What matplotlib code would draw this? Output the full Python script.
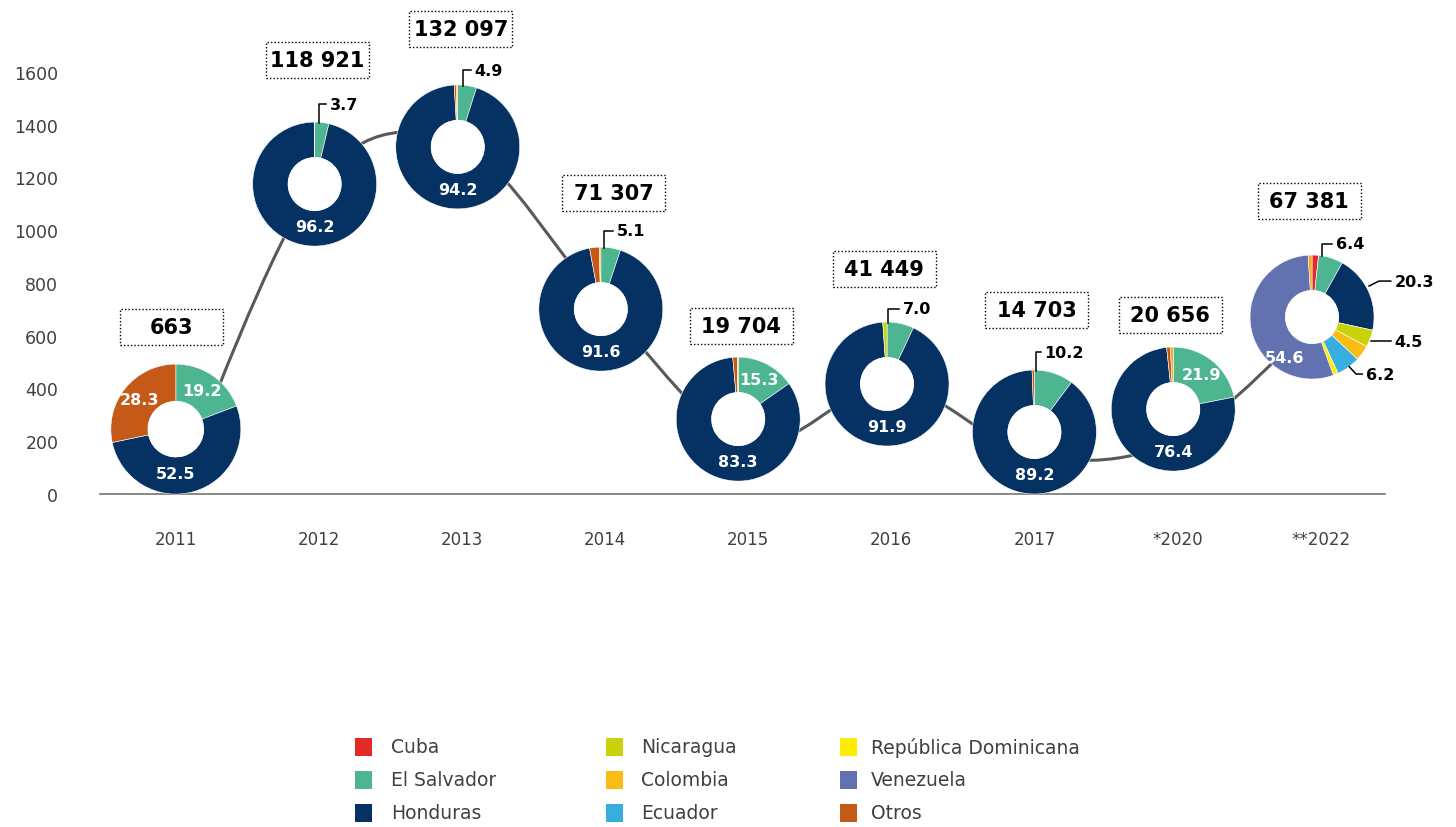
import math
import matplotlib
matplotlib.use("Agg")
import matplotlib.pyplot as plt
from matplotlib.path import Path
from matplotlib.patches import PathPatch, Rectangle, Circle

plt.rcParams["font.family"] = ["DejaVu Sans"]

# ---- datos ----
years = ["2011", "2012", "2013", "2014", "2015", "2016", "2017", "*2020", "**2022"]
totals = [663, 118921, 132097, 71307, 19704, 41449, 14703, 20656, 67381]
total_labels = ["663", "118 921", "132 097", "71 307", "19 704", "41 449",
                "14 703", "20 656", "67 381"]

countries = ["Cuba", "El Salvador", "Honduras", "Nicaragua", "Colombia",
             "Ecuador", "República Dominicana", "Venezuela", "Otros"]

# participación (%) por año, en el orden de years
cuba = [0, 0, 0, 0, 0, 0, 0, 0, 1.7]
el_salvador = [19.2, 3.7, 4.9, 5.1, 15.3, 7.0, 10.2, 21.9, 6.4]
honduras = [52.5, 96.2, 94.2, 91.6, 83.3, 91.9, 89.2, 76.4, 20.3]
nicaragua = [0, 0, 0, 0, 0, 1.1, 0, 0, 4.5]
colombia = [0, 0, 0, 0, 0, 0, 0, 0, 4.0]
ecuador = [0, 0, 0, 0, 0, 0, 0, 0, 6.2]
rep_dominicana = [0, 0, 0, 0, 0, 0, 0, 0, 1.3]
venezuela = [0, 0, 0, 0, 0, 0, 0, 0, 54.6]
otros = [28.3, 0, 0.5, 2.5, 1.2, 0, 0.6, 1.0, 0]
resto = [0, 0.1, 0.4, 0.4, 0.2, 0, 0, 0.7, 1.0]  # rebanada pequeña sin leyenda

shares = [cuba, el_salvador, honduras, nicaragua, colombia, ecuador,
          rep_dominicana, venezuela, otros, resto]

# ---- estilo / posiciones ----
colors = ["#E42A27", "#4DB690", "#053262", "#C8D30C", "#F9BD14",
          "#38ADE0", "#FFEC00", "#6271B0", "#C55A18", "#F5A623"]
line_color = "#595959"
text_gray = "#404040"

W, H = 1456, 828
donut_x = [0, 0.97, 1.97, 2.97, 3.93, 4.97, 6.0, 6.97, 7.94]
donut_y = [246, 1175, 1316, 701, 284, 417, 235, 322, 671]
donut_r = [65, 62, 62, 62, 62, 62, 62, 62, 62]
box_dy = [102, 124, 118, 116, 93, 115, 122, 94, 116]   # px sobre el centro
box_dx = [-4, 3, 3, 13, 3, -3, 2, -3, -3]
HOLE = 0.57

# etiquetas exteriores (año, país) -> polilínea en radios
outside = {
    (1, 1): [(0.07, 0.98), (0.07, 1.29), (0.18, 1.29)],
    (2, 1): [(0.08, 0.98), (0.08, 1.24), (0.21, 1.24)],
    (3, 1): [(0.05, 0.98), (0.05, 1.26), (0.19, 1.26)],
    (5, 1): [(0.02, 0.98), (0.02, 1.21), (0.19, 1.21)],
    (6, 1): [(0.02, 0.98), (0.02, 1.29), (0.10, 1.29)],
    (8, 1): [(0.16, 0.98), (0.16, 1.18), (0.32, 1.18)],
    (8, 2): [(0.92, 0.50), (1.08, 0.58), (1.27, 0.58)],
    (8, 3): [(0.95, -0.39), (1.27, -0.39)],
    (8, 5): [(0.60, -0.80), (0.71, -0.92), (0.81, -0.92)],
}
inside_override = {(8, 7): (-0.45, -0.65)}

fig = plt.figure(figsize=(W / 100, H / 100), dpi=100)
ax = fig.add_axes([100 / W, 1 - 495 / H, 1285 / W, 422 / H])
ax.set_xlim(-0.53, 8.45)
ax.set_ylim(0, 1600)
for s in ["left", "right", "top"]:
    ax.spines[s].set_visible(False)
ax.spines["bottom"].set_color("#808080")
ax.spines["bottom"].set_linewidth(1.3)
ax.set_yticks(range(0, 1601, 200))
ax.set_xticks(range(len(years)))
ax.set_xticklabels(years)
ax.tick_params(axis="y", length=0, pad=30, labelsize=12.5, labelcolor=text_gray)
ax.tick_params(axis="x", length=0, pad=26, labelsize=12, labelcolor=text_gray)

# línea suavizada (totales en centenas)
pts = [(i, t / 100) for i, t in enumerate(totals)]
verts = [pts[0]]
codes = [Path.MOVETO]
n = len(pts)
for i in range(n - 1):
    p0 = pts[max(i - 1, 0)]
    p1 = pts[i]
    p2 = pts[i + 1]
    p3 = pts[min(i + 2, n - 1)]
    c1 = (p1[0] + (p2[0] - p0[0]) / 6, p1[1] + (p2[1] - p0[1]) / 6)
    c2 = (p2[0] - (p3[0] - p1[0]) / 6, p2[1] - (p3[1] - p1[1]) / 6)
    verts += [c1, c2, p2]
    codes += [Path.CURVE4] * 3
ax.add_patch(PathPatch(Path(verts, codes), fill=False, color=line_color,
                       lw=2.2, capstyle="round", clip_on=False))

# donas
for yi in range(len(years)):
    cx, cy = ax.transData.transform((donut_x[yi], donut_y[yi]))
    r = donut_r[yi]
    dax = fig.add_axes([(cx - r) / W, (cy - r) / H, 2 * r / W, 2 * r / H])
    vals, cols, idx = [], [], []
    for k, serie in enumerate(shares):
        if serie[yi] > 0:
            vals.append(serie[yi])
            cols.append(colors[k])
            idx.append(k)
    dax.pie(vals, colors=cols, startangle=90, counterclock=False, radius=1,
            wedgeprops=dict(width=HOLE, edgecolor="white", linewidth=0.4))
    dax.add_patch(Circle((0, 0), 1 - HOLE, facecolor="white", edgecolor="none"))
    dax.set_xlim(-1, 1)
    dax.set_ylim(-1, 1)
    dax.set_aspect("equal")
    dax.axis("off")

    cum = 0
    for v, k in zip(vals, idx):
        mid = (cum + v / 2) / sum(vals) * 2 * math.pi
        cum += v
        key = (yi, k)
        lab = f"{v:.1f}"
        if key in outside:
            line = outside[key]
            dax.plot([p[0] for p in line], [p[1] for p in line], color="black",
                     lw=1.1, clip_on=False)
            tx, ty = line[-1]
            dax.text(tx + 0.06, ty, lab, ha="left", va="center", fontsize=11.5,
                     fontweight="bold", color="black", clip_on=False)
        elif v >= 10:
            if key in inside_override:
                px, py = inside_override[key]
            elif k == 2:
                px, py = 0, -0.69
            else:
                px, py = 0.72 * math.sin(mid), 0.72 * math.cos(mid)
            dax.text(px, py, lab, ha="center", va="center", fontsize=11.5,
                     fontweight="bold", color="white")

    # caja con total
    bx = cx + box_dx[yi]
    by = cy + box_dy[yi]
    fig.add_artist(Rectangle(((bx - 51.5) / W, (by - 18) / H), 103 / W, 36 / H,
                             transform=fig.transFigure, facecolor="white",
                             edgecolor="black", linestyle=(0, (1, 1.5)), lw=1))
    fig.text(bx / W, by / H, total_labels[yi], ha="center", va="center",
             fontsize=15, fontweight="bold", color="black")

# leyenda manual
marker_x = [355, 606, 840]
text_x = [391, 641, 871]
row_y = [748, 781, 814]
for i, name in enumerate(countries):
    c, rw = i // 3, i % 3
    y = row_y[rw]
    fig.add_artist(Rectangle((marker_x[c] / W, 1 - (y + 9) / H), 17 / W, 18 / H,
                             transform=fig.transFigure, facecolor=colors[i],
                             edgecolor="none"))
    fig.text(text_x[c] / W, 1 - y / H, name, ha="left", va="center",
             fontsize=13.5, color=text_gray)

fig.savefig("out.png", dpi=100, facecolor="white")
